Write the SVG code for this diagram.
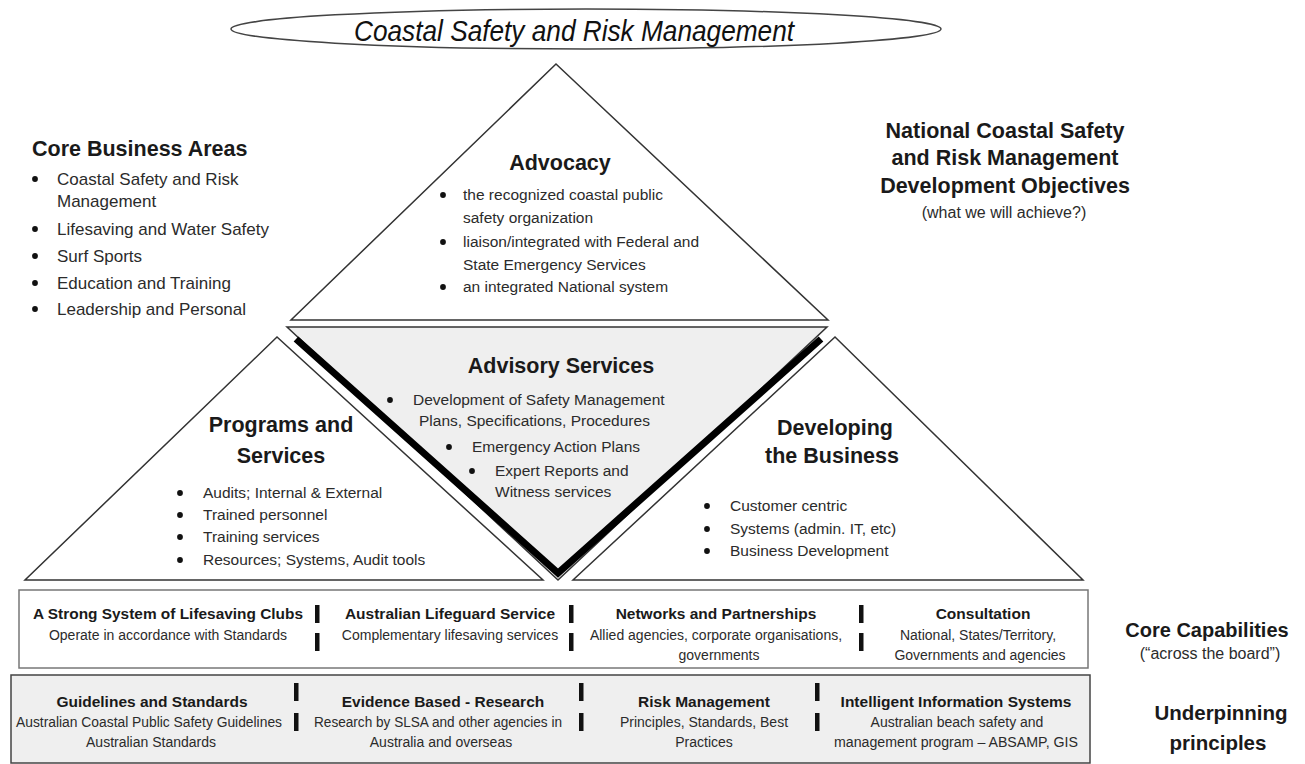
<svg xmlns="http://www.w3.org/2000/svg" width="1305" height="764" viewBox="0 0 1305 764">
<style>
.shape{fill:#fff;stroke:#333;stroke-width:1.5}
.t{font-family:"Liberation Sans",Arial,Helvetica,sans-serif}
.h{font-family:"Liberation Sans",Arial,Helvetica,sans-serif;font-weight:bold;fill:#1a1a1a}
.hh{font-size:21.5px;text-anchor:middle}
.b{font-family:"Liberation Sans",Arial,Helvetica,sans-serif;fill:#2b2b2b;font-size:15.5px}
.bc{font-family:"Liberation Sans",Arial,Helvetica,sans-serif;fill:#2b2b2b;font-size:14px;text-anchor:middle}
.hc{font-family:"Liberation Sans",Arial,Helvetica,sans-serif;font-weight:bold;fill:#1a1a1a;font-size:15.5px;text-anchor:middle}
.bar{fill:#111}
</style>
<defs>
<circle id="dot" r="2.9" fill="#111"/>
</defs>
<rect width="1305" height="764" fill="#fff"/>

<g id="title">
<ellipse cx="586" cy="29" rx="355" ry="20" fill="#fff" stroke="#444" stroke-width="1.5"/>
<text class="t" x="574" y="41" font-size="29" font-style="italic" fill="#111" text-anchor="middle" textLength="440" lengthAdjust="spacingAndGlyphs">Coastal Safety and Risk Management</text>
</g>

<g id="core-business-areas">
<text class="h" x="32" y="156" font-size="21.5">Core Business Areas</text>
<use href="#dot" x="35" y="179"/><use href="#dot" x="35" y="229"/><use href="#dot" x="35" y="256"/><use href="#dot" x="35" y="283"/><use href="#dot" x="35" y="309"/>
<g class="b" style="font-size:17px">
<text x="57" y="185">Coastal Safety and Risk</text>
<text x="57" y="207">Management</text>
<text x="57" y="235">Lifesaving and Water Safety</text>
<text x="57" y="262">Surf Sports</text>
<text x="57" y="289">Education and Training</text>
<text x="57" y="315">Leadership and Personal</text>
</g>
</g>

<g id="objectives">
<text class="h hh" x="1005" y="138">National Coastal Safety</text>
<text class="h hh" x="1005" y="165">and Risk Management</text>
<text class="h hh" x="1005" y="193">Development Objectives</text>
<text class="b" x="1004" y="218" text-anchor="middle" style="font-size:16px">(what we will achieve?)</text>
</g>

<g id="advocacy">
<polygon class="shape" points="556,64 291,320 828,320"/>
<text class="h hh" x="560" y="170">Advocacy</text>
<use href="#dot" x="443" y="195"/><use href="#dot" x="443" y="242"/><use href="#dot" x="443" y="287"/>
<g class="b">
<text x="463" y="200">the recognized coastal public</text>
<text x="463" y="223">safety organization</text>
<text x="463" y="247">liaison/integrated with Federal and</text>
<text x="463" y="270">State Emergency Services</text>
<text x="463" y="292">an integrated National system</text>
</g>
</g>

<g id="programs-and-services">
<polygon class="shape" points="277,337 25,580 543,580"/>
<text class="h hh" x="281" y="432">Programs and</text>
<text class="h hh" x="281" y="463">Services</text>
<use href="#dot" x="180" y="493"/><use href="#dot" x="180" y="515"/><use href="#dot" x="180" y="537"/><use href="#dot" x="180" y="560"/>
<g class="b">
<text x="203" y="498">Audits; Internal &amp; External</text>
<text x="203" y="520">Trained personnel</text>
<text x="203" y="542">Training services</text>
<text x="203" y="565">Resources; Systems, Audit tools</text>
</g>
</g>

<g id="developing-the-business">
<polygon class="shape" points="835,337 573,580 1083,580"/>
<text class="h hh" x="835" y="435">Developing</text>
<text class="h hh" x="832" y="463">the Business</text>
<use href="#dot" x="707" y="506"/><use href="#dot" x="707" y="529"/><use href="#dot" x="707" y="551"/>
<g class="b">
<text x="730" y="511">Customer centric</text>
<text x="730" y="534">Systems (admin. IT, etc)</text>
<text x="730" y="556">Business Development</text>
</g>
</g>

<g id="advisory-services">
<polygon points="287,327 827,327 558,580" fill="#efefef" stroke="#333" stroke-width="1.5"/>
<polyline points="296,339 558,573 821,339" fill="none" stroke="#000" stroke-width="7" stroke-linejoin="miter"/>
<text class="h hh" x="561" y="373">Advisory Services</text>
<use href="#dot" x="390" y="400"/><use href="#dot" x="449" y="447"/><use href="#dot" x="472" y="471"/>
<g class="b">
<text x="413" y="405">Development of Safety Management</text>
<text x="419" y="426">Plans, Specifications, Procedures</text>
<text x="472" y="452">Emergency Action Plans</text>
<text x="495" y="476">Expert Reports and</text>
<text x="495" y="497">Witness services</text>
</g>
</g>

<g id="core-capabilities">
<rect x="19" y="590" width="1069" height="78" fill="#fff" stroke="#777" stroke-width="1.5"/>
<text class="hc" x="168" y="619" textLength="270" lengthAdjust="spacingAndGlyphs">A Strong System of Lifesaving Clubs</text>
<text class="bc" x="168" y="640">Operate in accordance with Standards</text>
<rect class="bar" x="315" y="605" width="4.5" height="18"/>
<rect class="bar" x="315" y="633" width="4.5" height="18"/>
<text class="hc" x="450" y="619">Australian Lifeguard Service</text>
<text class="bc" x="450" y="640">Complementary lifesaving services</text>
<rect class="bar" x="569" y="605" width="4.5" height="18"/>
<rect class="bar" x="569" y="633" width="4.5" height="18"/>
<text class="hc" x="716" y="619">Networks and Partnerships</text>
<text class="bc" x="716" y="640">Allied agencies, corporate organisations,</text>
<text class="bc" x="719" y="660">governments</text>
<rect class="bar" x="859" y="605" width="4.5" height="18"/>
<rect class="bar" x="859" y="633" width="4.5" height="18"/>
<text class="hc" x="983" y="619">Consultation</text>
<text class="bc" x="978" y="640">National, States/Territory,</text>
<text class="bc" x="980" y="660">Governments and agencies</text>
<text class="h" x="1207" y="637" font-size="20" text-anchor="middle">Core Capabilities</text>
<text class="b" x="1210" y="659" text-anchor="middle" style="font-size:16px">(“across the board”)</text>
</g>

<g id="underpinning-principles">
<rect x="11" y="675" width="1079" height="88" fill="#efefef" stroke="#444" stroke-width="1.5"/>
<text class="hc" x="152" y="707">Guidelines and Standards</text>
<text class="bc" x="149" y="727" textLength="266" lengthAdjust="spacingAndGlyphs">Australian Coastal Public Safety Guidelines</text>
<text class="bc" x="151" y="747">Australian Standards</text>
<rect class="bar" x="294" y="683" width="4.5" height="18"/>
<rect class="bar" x="294" y="713" width="4.5" height="18"/>
<text class="hc" x="443" y="707">Evidence Based - Research</text>
<text class="bc" x="438" y="727" textLength="248" lengthAdjust="spacingAndGlyphs">Research by SLSA and other agencies in</text>
<text class="bc" x="441" y="747">Australia and overseas</text>
<rect class="bar" x="579" y="683" width="4.5" height="18"/>
<rect class="bar" x="579" y="713" width="4.5" height="18"/>
<text class="hc" x="704" y="707">Risk Management</text>
<text class="bc" x="704" y="727">Principles, Standards, Best</text>
<text class="bc" x="704" y="747">Practices</text>
<rect class="bar" x="815" y="683" width="4.5" height="18"/>
<rect class="bar" x="815" y="713" width="4.5" height="18"/>
<text class="hc" x="956" y="707">Intelligent Information Systems</text>
<text class="bc" x="957" y="727">Australian beach safety and</text>
<text class="bc" x="956" y="747" textLength="244" lengthAdjust="spacingAndGlyphs">management program – ABSAMP, GIS</text>
<text class="h" x="1221" y="720" font-size="20.5" text-anchor="middle">Underpinning</text>
<text class="h" x="1218" y="750" font-size="20.5" text-anchor="middle">principles</text>
</g>

<g id="connectors"/>
</svg>
